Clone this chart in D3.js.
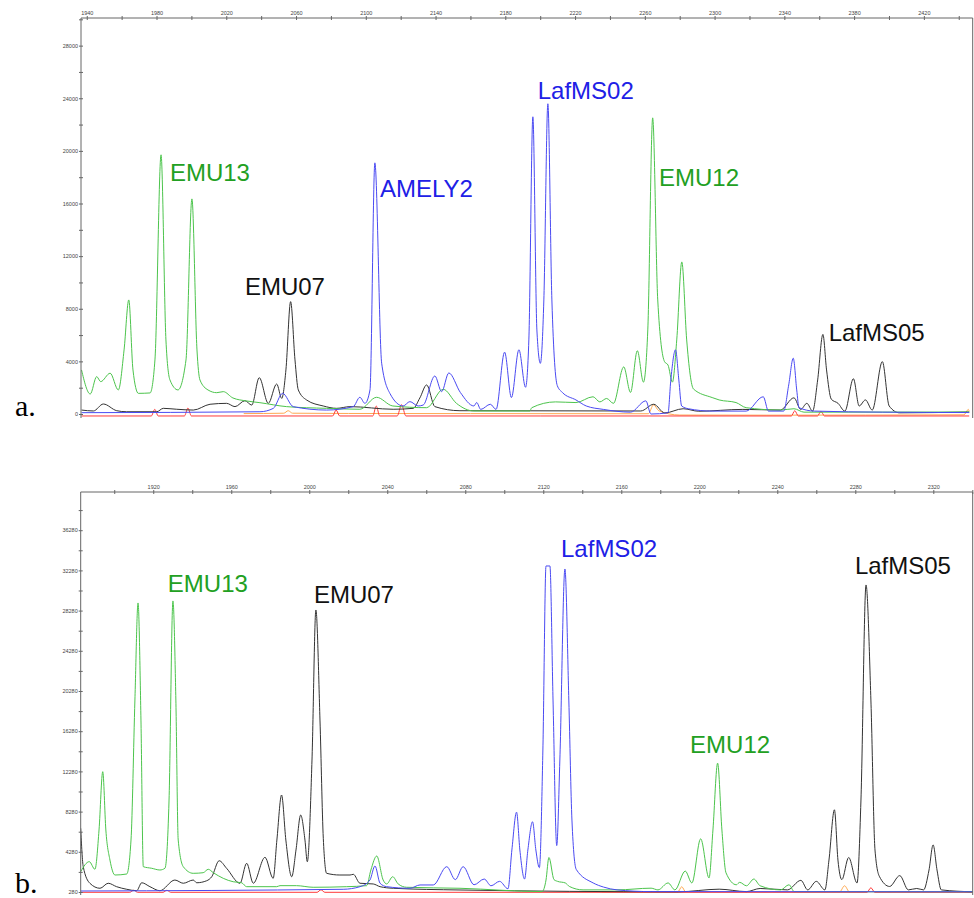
<!DOCTYPE html>
<meta charset="utf-8">
<style>
  body { margin: 0; background: #fff; }
  svg { display: block; }
  .axis .tick text { font-family: Arial, "Liberation Sans", sans-serif; font-size: 5.5px; fill: #444; }
  .axis line { stroke: #666; }
  .frame { stroke: #666; stroke-width: 1; }
  .trace { fill: none; stroke-width: 1; }
  .peak-label { font-family: Arial, "Liberation Sans", sans-serif; font-size: 24px; }
  .panel-label { font-family: "Times New Roman", "Liberation Serif", serif; font-size: 30px; fill: #000; }
</style>
<body>
<svg width="974" height="898"></svg>
<script src="https://d3js.org/d3.v7.min.js"></script>
<script>
// ---- panel a (size in bp, height in RFU) ----
const xTicksA = [1940, 1980, 2020, 2060, 2100, 2140, 2180, 2220, 2260, 2300, 2340, 2380, 2420];
const xMinorA = [1960, 2000, 2040, 2080, 2120, 2160, 2200, 2240, 2280, 2320, 2360, 2400, 2440];
const yTicksA = [0, 4000, 8000, 12000, 16000, 20000, 24000, 28000];
const yMinorA = [2000, 6000, 10000, 14000, 18000, 22000, 26000, 30000];

const greenA = [[1937,3350],[1942,1520],[1945.7,2840],[1948,2460],[1953.4,3100],[1958.1,1830],[1961.4,4870],
  [1964.1,8670],[1966.5,3350],[1969.6,1570],[1976.3,1600],[1979.1,4110],[1982.6,19700],[1985.4,5630],
  [1987.7,2590],[1992.3,1830],[1996.9,4110],[2000.3,16350],[2003.2,4870],[2004.9,2590],[2009.5,1830],
  [2014.5,1620],[2018.3,1700],[2023.8,1220],[2031.7,990],[2039.3,860],[2054.6,560],[2077.5,430],
  [2096.6,360],[2106.2,1270],[2115.5,610],[2134.9,480],[2144.4,1880],[2152,810],[2162,230],[2194,230],
  [2195.2,480],[2208.8,920],[2220.5,870],[2230.3,1310],[2234.2,920],[2238.1,1180],[2242,810],
  [2247.9,3580],[2251.8,1640],[2255.7,4810],[2259.2,2420],[2261.7,6390],[2264.5,22510],[2267.4,8670],
  [2271.3,3980],[2273.3,3720],[2275.8,2420],[2278.3,5630],[2281.2,11560],[2284,5630],[2287.9,1900],
  [2298.6,1250],[2302.6,1070],[2312.3,870],[2318.1,480],[2337.7,300],[2345.5,400],[2351.3,140],[2446,150]];

const blackA = [[1937,300],[1943.8,230],[1949.5,760],[1957.2,250],[1962.9,170],[1980.1,170],[1983.9,430],
  [1991.6,360],[2001.1,300],[2010.7,740],[2020.2,810],[2025,560],[2030.7,1010],[2034.6,680],[2038.9,2760],
  [2044.1,810],[2048.9,2280],[2051.8,1190],[2054.2,3350],[2056.9,8540],[2059.4,4110],[2061.3,1830],
  [2066.1,1060],[2075.6,610],[2083.3,430],[2090.9,560],[2115.7,360],[2127.2,430],[2131,1220],[2134.9,2210],
  [2139.6,560],[2154,250],[2257.7,230],[2265.1,740],[2271.4,80],[2282,400],[2290.9,210],[2316.2,350],
  [2337.7,300],[2345.5,1230],[2349.4,350],[2352.9,810],[2356.2,220],[2359.1,2590],[2362.1,6050],
  [2364.2,3350],[2366.9,1130],[2370.8,810],[2374.7,220],[2379.6,2680],[2382.9,610],[2386.5,1070],
  [2390.4,300],[2396.2,3980],[2400.1,610],[2406,90],[2446,150]];

const blueA = [[1937,100],[2039.3,170],[2047,430],[2052.3,1570],[2058.4,560],[2077.5,300],[2092.8,560],
  [2096.6,1270],[2099.5,810],[2102.4,1830],[2105.2,19090],[2109.1,3860],[2113.8,1570],[2121.4,610],
  [2125.3,940],[2130,610],[2132.9,680],[2139.6,2890],[2143.5,1700],[2147.6,3120],[2154.2,1640],
  [2162,610],[2163.6,870],[2165.9,350],[2171.4,740],[2174.7,350],[2179.6,4700],[2183.5,1250],
  [2187.8,4880],[2191.6,2030],[2193.5,5630],[2195.8,22590],[2198.1,6390],[2200.1,3850],[2202.1,8670],
  [2204.4,23580],[2206.7,8670],[2209.8,2160],[2212.7,1640],[2220.5,1070],[2226.4,610],[2236.2,350],
  [2251.8,140],[2260.6,1000],[2263.5,0],[2273.3,90],[2274.9,2590],[2277.6,4880],[2279.5,2590],
  [2281.1,610],[2285,400],[2298.6,220],[2318.1,220],[2327.9,1310],[2330.9,220],[2339.6,220],
  [2342.5,2210],[2345.1,4240],[2347.1,1830],[2348.4,480],[2357.2,220],[2396.2,140],[2446,110]];

const redA = [[1937,-150],[1977,-150],[1979,350],[1981,-150],[1996,-150],[1998,450],[2000,-150],
  [2081,-150],[2083,300],[2085,-150],[2104,-150],[2106,600],[2108,-150],[2118,-150],[2120.5,700],
  [2123,-150],[2200,-150],[2344,-150],[2346,250],[2348,-150],[2359,-150],[2361,200],[2363,-150],[2446,-150]];

const orangeA = [[2030,30],[2053,60],[2055.5,250],[2058,60],[2090,40],[2160,30],[2262,20],[2265,700],
  [2268,250],[2280,-80],[2330,-90],[2443,-60],[2445.5,350],[2446,200]];

// ---- panel b ----
const xTicksB = [1920, 1960, 2000, 2040, 2080, 2120, 2160, 2200, 2240, 2280, 2320];
const xMinorB = [1900, 1940, 1980, 2020, 2060, 2100, 2140, 2180, 2220, 2260, 2300, 2340];
const yTicksB = [280, 4280, 8280, 12280, 16280, 20280, 24280, 28280, 32280, 36280];
const yMinorB = [2280, 6280, 10280, 14280, 18280, 22280, 26280, 30280, 34280, 38280];

const greenB = [[1882.8,2300],[1887.2,3300],[1890.1,2540],[1892.2,6450],[1894.1,12250],[1895.7,6450],
  [1897.8,3460],[1900.4,1970],[1906.4,2070],[1908.6,5450],[1910.6,19380],[1912.2,29040],[1913.7,17390],
  [1914.9,2800],[1919.2,2640],[1923.4,2470],[1926,2640],[1928.1,9430],[1930.1,29240],[1931.6,19380],
  [1932.8,5450],[1935.4,2800],[1940.5,2140],[1945.6,2200],[1948.2,2540],[1950.8,2200],[1955.9,1640],
  [1961,1300],[1965.3,1200],[1967.9,810],[1983.3,810],[1985,910],[1993.5,910],[2002,750],[2019.2,810],
  [2029.4,910],[2031.6,2470],[2034.6,3860],[2037.9,1470],[2039.7,1080],[2042.8,1800],[2045.6,1080],
  [2049.9,750],[2077.3,650],[2119.4,320],[2121.4,1470],[2122.9,3710],[2125.5,1510],[2127.3,1340],
  [2131.3,1180],[2133.4,830],[2140.4,490],[2157.8,490],[2175.3,660],[2178.8,490],[2184,1180],
  [2187.5,490],[2192.8,2360],[2196.2,1180],[2200.7,5570],[2205,1680],[2207,6450],[2209.4,13100],
  [2211.6,6450],[2213.7,2190],[2219,1000],[2220.7,1240],[2224.2,900],[2228,1570],[2231.2,900],
  [2241.7,490],[2246,1000],[2248.7,320],[2340.2,300]];

const blackB = [[1882.8,6620],[1884.1,2800],[1887.5,1150],[1892.7,650],[1896.9,1150],[1901.2,810],
  [1906.4,550],[1911.5,410],[1914.1,1200],[1918.3,810],[1923.4,410],[1931.1,1470],[1935.4,1150],
  [1940.5,1470],[1942.3,1200],[1947.4,1400],[1950,1800],[1953.8,3390],[1957.6,2640],[1964.5,1150],
  [1967.9,3140],[1971.3,1150],[1977.3,3730],[1981.5,1640],[1983.4,5450],[1985.8,9930],[1988,5450],
  [1991,1800],[1993.2,4460],[1995.6,7940],[1997.8,5450],[1999,3290],[2001.4,13410],[2003.4,28340],
  [2005.5,17390],[2007.2,5620],[2008.9,2140],[2015.7,1970],[2020.9,1970],[2022.6,2040],[2026,1150],
  [2032.8,1080],[2036.3,810],[2043.1,650],[2077.3,480],[2189.3,300],[2210.2,560],[2224.2,320],
  [2231.2,630],[2245.2,490],[2252.1,1440],[2255.6,490],[2260,1340],[2264.4,490],[2266.5,3460],
  [2269.3,8460],[2271.1,3460],[2273.1,1510],[2276.6,3710],[2280.9,1180],[2282.9,9430],[2285.5,30830],
  [2288,19380],[2290.1,4460],[2292.3,1850],[2297.6,830],[2302.8,1910],[2307.2,490],[2311.5,630],
  [2315,490],[2317.8,2470],[2319.9,4970],[2321.9,2470],[2324.1,490],[2340.2,300]];

const blueB = [[1882.8,380],[2017.4,550],[2026,810],[2031.1,1470],[2033.7,2870],[2036.3,1150],
  [2039.7,810],[2051.6,650],[2056.8,980],[2063.6,980],[2070.5,2800],[2074.9,1510],[2078.9,2800],
  [2084.5,1000],[2089.7,1570],[2093.2,900],[2097.6,1340],[2101.9,600],[2103.9,4460],[2106.3,8220],
  [2108,4460],[2110.4,1570],[2112.1,4460],[2114.5,7270],[2116.2,4460],[2118,2700],[2119.8,14410],
  [2121.4,32720],[2123.4,32720],[2125,19380],[2126.9,4900],[2128.5,13410],[2131.1,32420],[2133.1,19380],
  [2134.7,7440],[2136.9,2530],[2145.6,1180],[2150.9,770],[2157.8,490],[2175.3,320],[2340.2,300]];

const redB = [[1882.8,250],[1908,250],[1910,450],[1912,250],[1925,250],[1927,450],[1929,250],
  [2004,250],[2006,500],[2008,250],[2286,250],[2288,700],[2290,250],[2340.2,250]];

const orangeB = [[2150,300],[2189,300],[2191,800],[2193,300],[2272,300],[2274.5,900],[2277,300],[2340.2,300]];

// peak labels, anchored in data units (left edge, baseline)
const labelsA = [
  {text: "EMU13", dye: "green", x: 1987.7, y: 17680},
  {text: "EMU07", dye: "black", x: 2030.7, y: 9050},
  {text: "AMELY2", dye: "blue", x: 2108.1, y: 16500},
  {text: "LafMS02", dye: "blue", x: 2198.6, y: 23960},
  {text: "EMU12", dye: "green", x: 2268.1, y: 17340},
  {text: "LafMS05", dye: "black", x: 2365.4, y: 5550}
];
const labelsB = [
  {text: "EMU13", dye: "green", x: 1927.5, y: 30130},
  {text: "EMU07", dye: "black", x: 2002.4, y: 29040},
  {text: "LafMS02", dye: "blue", x: 2129.1, y: 33610},
  {text: "EMU12", dye: "green", x: 2195.3, y: 14110},
  {text: "LafMS05", dye: "black", x: 2279.8, y: 31920}
];

const traceColor = {green: "#4cc44c", blue: "#4a4af2", black: "#333333", red: "#ff3a3a", orange: "#ffa850"};
const labelColor = {green: "#22a022", blue: "#2020e6", black: "#111111"};

const svg = d3.select("svg");

function drawPanel(p) {
  const x = d3.scaleLinear().domain(p.xDomain).range([p.left, p.right]);
  const y = d3.scaleLinear().domain(p.yDomain).range([p.zeroY, p.top]);
  const g = svg.append("g");

  const clipId = "clip-" + p.name;
  g.append("clipPath").attr("id", clipId)
    .append("rect").attr("x", p.left).attr("y", p.top)
    .attr("width", p.right - p.left).attr("height", p.bottom - p.top);

  const line = d3.line().x(d => x(d[0])).y(d => y(d[1])).curve(d3.curveMonotoneX);
  const traces = g.append("g").attr("clip-path", "url(#" + clipId + ")");
  p.traces.forEach(t => {
    traces.append("path").attr("class", "trace")
      .attr("stroke", traceColor[t.dye])
      .attr("d", line(t.data));
  });

  // frame: left, top, right
  g.append("path").attr("class", "frame").attr("fill", "none")
    .attr("d", `M${p.left},${p.bottom}V${p.top}H${p.right}V${p.bottom}`);

  function crossTicks(sel, vertical) {
    sel.select(".domain").remove();
    sel.selectAll(".tick line").attr(vertical ? "x1" : "y1", -2).attr(vertical ? "x2" : "y2", 2);
  }

  g.append("g").attr("class", "axis").attr("transform", `translate(0,${p.top})`)
    .call(d3.axisTop(x).tickValues(p.xTicks).tickFormat(d3.format("d")).tickSize(2).tickPadding(1))
    .call(s => crossTicks(s, false));
  g.append("g").attr("class", "axis").attr("transform", `translate(0,${p.top})`)
    .call(d3.axisTop(x).tickValues(p.xMinor).tickFormat("").tickSize(2))
    .call(s => crossTicks(s, false));

  g.append("g").attr("class", "axis").attr("transform", `translate(${p.left},0)`)
    .call(d3.axisLeft(y).tickValues(p.yTicks).tickFormat(d3.format("d")).tickSize(2).tickPadding(1))
    .call(s => crossTicks(s, true));
  g.append("g").attr("class", "axis").attr("transform", `translate(${p.left},0)`)
    .call(d3.axisLeft(y).tickValues(p.yMinor).tickFormat("").tickSize(2))
    .call(s => crossTicks(s, true));

  g.selectAll(".peak-label").data(p.labels).join("text")
    .attr("class", "peak-label")
    .attr("x", d => x(d.x)).attr("y", d => y(d.y))
    .attr("fill", d => labelColor[d.dye])
    .text(d => d.text);

  g.append("text").attr("class", "panel-label")
    .attr("x", 15).attr("y", p.tagY).text(p.tag);
}

drawPanel({
  name: "a", tag: "a.", tagY: 416,
  left: 81, right: 972.7, top: 18, zeroY: 414, bottom: 418,
  xDomain: [1936.7, 2448], yDomain: [0, 30100],
  xTicks: xTicksA, xMinor: xMinorA, yTicks: yTicksA, yMinor: yMinorA,
  traces: [
    {dye: "orange", data: orangeA}, {dye: "red", data: redA},
    {dye: "black", data: blackA}, {dye: "green", data: greenA}, {dye: "blue", data: blueA}
  ],
  labels: labelsA
});

drawPanel({
  name: "b", tag: "b.", tagY: 893,
  left: 80.7, right: 972.7, top: 492, zeroY: 892, bottom: 895,
  xDomain: [1882.8, 2340.2], yDomain: [280, 40080],
  xTicks: xTicksB, xMinor: xMinorB, yTicks: yTicksB, yMinor: yMinorB,
  traces: [
    {dye: "orange", data: orangeB}, {dye: "red", data: redB},
    {dye: "black", data: blackB}, {dye: "green", data: greenB}, {dye: "blue", data: blueB}
  ],
  labels: labelsB
});
</script>
</body>
